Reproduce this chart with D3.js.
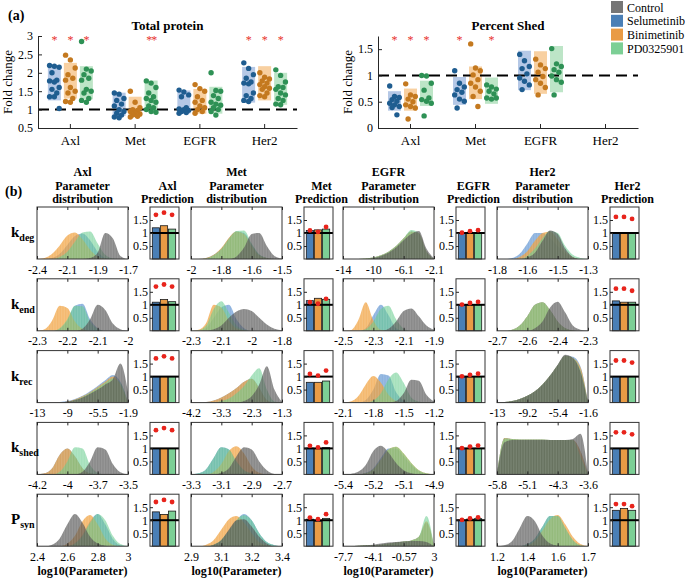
<!DOCTYPE html>
<html lang="en">
<head>
<meta charset="utf-8">
<title>Fold change and parameter distributions</title>
<script src="https://cdn.jsdelivr.net/npm/d3@7"></script>
<style>
  body { margin: 0; background: #fff; }
</style>
</head>
<body>
<script>
// ---- categories ----
var proteins = ["Axl", "Met", "EGFR", "Her2"];
var drugs = ["Selumetinib", "Binimetinib", "PD0325901"];
var legendNames = ["Control", "Selumetinib", "Binimetinib", "PD0325901"];
var rowMain = ["k", "k", "k", "k", "P"];
var rowSub = ["deg", "end", "rec", "shed", "syn"];

// ---- (a) Total protein: points per drug (Sel, Bini, PD) ----
var totalAxl = [
  [2.2, 2.18, 2.15, 2.0, 1.8, 1.78, 1.75, 1.6, 1.55, 1.45, 1.35, 1.35, 1.03],
  [2.48, 2.35, 2.13, 1.95, 1.85, 1.8, 1.6, 1.5, 1.45, 1.3, 1.22, 1.2],
  [2.85, 2.1, 2.05, 1.95, 1.85, 1.8, 1.55, 1.5, 1.45, 1.3, 1.25, 1.2]];
var totalMet = [
  [1.45, 1.42, 1.3, 1.25, 1.15, 1.1, 1.0, 0.95, 0.9, 0.85, 0.8, 0.78],
  [1.5, 1.2, 1.05, 1.0, 0.98, 0.95, 0.9, 0.88, 0.85, 0.82, 0.8],
  [1.78, 1.72, 1.6, 1.45, 1.35, 1.3, 1.25, 1.2, 1.1, 1.05, 1.0, 0.95, 0.93]];
var totalEGFR = [
  [1.53, 1.48, 1.4, 1.35, 1.05, 1.02, 1.0, 0.98, 0.95, 0.92, 0.9],
  [1.68, 1.57, 1.5, 1.35, 1.25, 1.2, 1.1, 1.05, 1.0, 0.95, 0.9],
  [2.0, 1.52, 1.5, 1.38, 1.3, 1.2, 1.15, 1.12, 1.05, 1.0, 0.95, 0.85]];
var totalHer2 = [
  [2.27, 2.12, 1.95, 1.85, 1.75, 1.72, 1.7, 1.45, 1.38, 1.3, 1.25, 1.22],
  [2.0, 1.88, 1.83, 1.78, 1.72, 1.68, 1.62, 1.58, 1.55, 1.45, 1.38, 1.35],
  [2.08, 1.93, 1.75, 1.62, 1.6, 1.55, 1.45, 1.4, 1.3, 1.25, 1.15, 1.13]];
var totalLo = [[1.25, 1.3, 1.28], [0.83, 0.8, 0.95], [0.89, 0.89, 0.89], [1.19, 1.25, 1.13]];
var totalHi = [[2.14, 2.27, 2.18], [1.46, 1.35, 1.79], [1.52, 1.56, 1.62], [2.16, 2.18, 2.0]];
var totalStars = [[1, 1, 1], [0, 0, 2], [0, 0, 0], [1, 1, 1]];

// ---- (a) Percent shed ----
var shedAxl = [
  [0.8, 0.6, 0.58, 0.54, 0.51, 0.47, 0.44, 0.41, 0.39, 0.25],
  [0.84, 0.63, 0.6, 0.55, 0.5, 0.44, 0.41, 0.38, 0.17],
  [1.0, 0.99, 0.85, 0.72, 0.57, 0.54, 0.51, 0.47, 0.23]];
var shedMet = [
  [1.09, 0.85, 0.78, 0.73, 0.68, 0.63, 0.55, 0.51, 0.38],
  [1.6, 1.14, 1.09, 1.01, 0.92, 0.85, 0.78, 0.7, 0.6, 0.41],
  [0.82, 0.78, 0.74, 0.7, 0.65, 0.57, 0.55, 0.57]];
var shedEGFR = [
  [1.4, 1.28, 1.17, 1.13, 1.03, 0.95, 0.89, 0.82, 0.73],
  [1.31, 1.2, 1.13, 1.06, 0.98, 0.92, 0.85, 0.77, 0.63],
  [1.51, 1.22, 1.17, 1.11, 1.06, 0.99, 0.92, 0.87, 0.63]];
var shedHer2 = [[], [], []];
var shedLo = [[0.33, 0.33, 0.42], [0.44, 0.55, 0.46], [0.72, 0.65, 0.68], [null, null, null]];
var shedHi = [[0.70, 0.75, 0.90], [0.97, 1.17, 0.96], [1.47, 1.46, 1.56], [null, null, null]];
var shedStars = [[1, 1, 1], [1, 0, 1], [0, 0, 0], [0, 0, 0]];

// ---- (b) parameter distributions: 13 evenly spaced heights (% of panel), [Control, Sel, Bini, PD] ----
var axl_kdeg = [
  [0,0,0,0,0,0,0,2,12,50,40,6,0],
  [0,0,2,10,27,44,49,36,14,2,0,0,0],
  [0,2,10,26,45,51,38,18,5,1,0,0,0],
  [0,0,0,4,14,33,51,53,30,8,1,0,0]];
var axl_kend = [
  [0,0,0,0,0,0,4,22,50,40,14,3,0],
  [0,0,0,4,20,48,52,22,5,0,0,0,0],
  [0,3,20,48,44,18,4,0,0,0,0,0,0],
  [0,0,0,5,22,48,47,18,4,0,0,0,0]];
var axl_krec = [
  [0,0,0,0,2,5,10,17,25,35,45,75,20],
  [0,0,0,1,3,7,13,22,32,43,53,40,0],
  [0,0,0,0,2,6,12,20,30,40,50,35,0],
  [0,0,0,0,1,5,11,19,28,38,47,38,0]];
var axl_kshed = [
  [0,0,0,0,0,0,5,25,52,48,20,4,0],
  [0,2,12,38,50,35,12,2,0,0,0,0,0],
  [0,2,12,38,50,35,12,2,0,0,0,0,0],
  [0,0,0,5,25,52,50,18,3,0,0,0,0]];
var axl_psyn = [
  [0,0,3,15,42,62,45,18,5,1,0,0,0],
  [0,0,0,0,0,6,22,48,62,42,14,2,0],
  [0,0,0,0,5,20,48,60,42,15,3,0,0],
  [0,0,0,0,0,5,20,45,62,50,20,4,0]];

var met_kdeg = [
  [0,0,0,0,0,0,5,22,48,50,25,6,1],
  [0,0,2,8,20,40,53,50,28,8,2,0,0],
  [0,0,2,8,21,41,53,48,26,7,2,0,0],
  [0,0,1,7,19,39,54,55,30,9,2,0,0]];
var met_kend = [
  [0,0,0,3,10,25,37,42,38,25,12,4,1],
  [0,0,5,25,45,50,22,5,0,0,0,0,0],
  [0,2,15,50,45,20,5,1,0,0,0,0,0],
  [0,1,10,42,57,35,10,2,0,0,0,0,0]];
var met_krec = [
  [0,0,0,0,0,0,0,3,12,35,70,25,1],
  [0,0,1,4,10,18,28,40,46,28,5,0,0],
  [0,0,1,4,10,18,28,40,46,28,5,0,0],
  [0,0,0,0,3,8,18,32,52,66,25,2,0]];
var met_kshed = [
  [0,0,0,0,3,12,35,52,48,25,8,1,0],
  [0,2,10,32,52,48,25,8,2,0,0,0,0],
  [0,0,0,5,20,45,54,40,15,3,0,0,0],
  [0,2,10,32,52,48,25,8,2,0,0,0,0]];
var met_psyn = [
  [0,0,0,3,12,32,50,52,38,18,5,0,0],
  [0,0,0,3,12,30,50,62,50,25,8,2,0],
  [0,0,3,12,32,52,58,45,25,8,2,0,0],
  [0,0,0,3,12,30,50,60,50,25,8,2,0]];

var egfr_kdeg = [
  [0,0,0,0,2,6,12,22,36,48,54,20,1],
  [0,0,0,1,3,7,14,25,40,53,50,15,0],
  [0,0,0,1,3,7,14,25,40,53,50,15,0],
  [0,0,0,1,3,7,14,25,40,56,50,15,0]];
var egfr_kend = [
  [0,0,0,0,0,0,4,18,38,43,28,10,2],
  [0,0,0,5,30,50,30,5,0,0,0,0,0],
  [0,1,20,55,20,2,0,0,0,0,0,0,0],
  [0,0,0,3,18,42,48,22,4,0,0,0,0]];
var egfr_krec = [
  [0,0,0,0,0,0,0,3,18,44,42,15,2],
  [0,0,0,5,25,55,52,20,4,0,0,0,0],
  [0,2,12,35,51,38,15,3,0,0,0,0,0],
  [0,0,0,0,4,18,45,58,38,10,2,0,0]];
var egfr_kshed = [
  [0,1,5,18,45,55,42,22,8,2,0,0,0],
  [0,0,0,3,12,32,50,50,35,18,6,1,0],
  [0,0,0,2,10,28,48,53,40,22,8,2,0],
  [0,0,0,2,10,28,48,53,40,22,8,2,0]];
var egfr_psyn = [
  [0,0,1,2,3,5,7,8,9,10,10,8,0],
  [0,0,1,2,2,3,5,7,9,11,18,45,0],
  [0,0,1,2,2,3,5,7,9,11,18,48,0],
  [0,0,1,2,2,3,5,7,9,11,18,58,0]];

var her2_kdeg = [
  [0,0,0,0,3,12,35,55,48,20,4,0,0],
  [0,0,2,10,30,50,50,40,25,10,3,0,0],
  [0,0,0,4,15,35,50,53,38,15,4,0,0],
  [0,0,0,0,6,20,40,54,50,25,8,2,0]];
var her2_kend = [
  [0,0,0,0,0,5,18,45,56,35,10,2,0],
  [0,0,2,10,28,50,55,40,18,5,1,0,0],
  [0,0,2,10,28,50,55,40,18,5,1,0,0],
  [0,0,2,10,28,50,55,40,18,5,1,0,0]];
var her2_krec = [
  [0,1,3,7,13,22,35,52,73,92,86,60,0],
  [0,1,3,7,13,22,35,52,72,90,88,70,0],
  [0,1,3,7,13,22,35,52,72,90,86,68,0],
  [0,1,3,7,13,22,35,52,72,90,86,62,0]];
var her2_kshed = [
  [0,62,66,66,66,66,66,66,66,66,68,78,0],
  [0,70,68,67,67,67,67,66,66,66,66,45,0],
  [0,70,68,67,67,67,67,66,66,66,66,45,0],
  [0,69,68,67,67,67,67,66,66,66,66,35,0]];
var her2_psyn = [
  [0,2,10,35,58,48,20,5,1,0,0,0,0],
  [0,0,0,0,4,15,38,58,58,35,12,2,0],
  [0,0,0,0,2,10,30,52,60,42,18,4,0],
  [0,0,0,0,4,15,38,58,58,35,12,2,0]];

// x tick labels (first and last are the axis ends)
var axlTicks = [[-2.4,-2.1,-1.9,-1.7],[-2.3,-2.2,-2.1,-2],[-13,-9,-5.5,-1.9],[-4.2,-4,-3.7,-3.5],[2.4,2.6,2.8,3]];
var metTicks = [[-2,-1.8,-1.6,-1.5],[-2.3,-2.1,-2,-1.8],[-4.2,-3.3,-2.3,-1.3],[-3.3,-3.1,-2.9,-2.7],[2.9,3.1,3.2,3.4]];
var egfrTicks = [[-14,-10,-6.1,-2.1],[-2.5,-2.3,-2.1,-1.9],[-2.1,-1.8,-1.5,-1.2],[-5.4,-5.2,-5.1,-4.9],[-7.7,-4.1,-0.57,3]];
var her2Ticks = [[-1.8,-1.6,-1.5,-1.3],[-2.7,-2.6,-2.4,-2.3],[-13,-9.2,-5.4,-1.6],[-5.8,-5.1,-4.3,-3.6],[1.2,1.4,1.6,1.7]];

// prediction bars (Sel, Bini, PD) per row, and measured data dots
var axlBars = [[1.2,1.28,1.15],[1.1,1.2,1.12],[1,1,1],[1,1,1],[1.32,1.22,1.35]];
var metBars = [[1.1,1.12,1.15],[1.16,1.25,1.21],[0.78,0.78,0.83],[1.01,1,1.03],[1.04,0.95,1.07]];
var egfrBars = [[1,1,1],[1,1,1],[1,1,1],[1,1,1],[1,1.04,1.06]];
var her2Bars = [[1.02,1.02,1.02],[1.15,1.1,1.1],[1,1,1],[1,1,1],[1.38,1.45,1.38]];
var axlDots = [1.7, 1.78, 1.7];
var metDots = [1.1, 1.04, 1.23];
var egfrDots = [1.01, 1.07, 1.11];
var her2Dots = [1.62, 1.62, 1.54];

// tables built from the arrays above
var totalPts = [totalAxl, totalMet, totalEGFR, totalHer2];
var shedPts = [shedAxl, shedMet, shedEGFR, shedHer2];
var distData = [
  [axl_kdeg, axl_kend, axl_krec, axl_kshed, axl_psyn],
  [met_kdeg, met_kend, met_krec, met_kshed, met_psyn],
  [egfr_kdeg, egfr_kend, egfr_krec, egfr_kshed, egfr_psyn],
  [her2_kdeg, her2_kend, her2_krec, her2_kshed, her2_psyn]];
var tickData = [axlTicks, metTicks, egfrTicks, her2Ticks];
var barData = [axlBars, metBars, egfrBars, her2Bars];
var dotData = [axlDots, metDots, egfrDots, her2Dots];

// ---- styles ----
var boxFill = ["#b5c8e6", "#f8d0a1", "#bde5c7"];
var ptFill = ["#1f5d90", "#c4791f", "#2e9155"];
var legendFill = ["#767676", "#4a7fb6", "#e99b45", "#7ccf95"];
var distFill = ["#4f4f4f", "#3f7fc8", "#f09c35", "#62c98a"];
var distAlpha = [0.68, 0.6, 0.72, 0.58];
var barFill = ["#4a7fb6", "#e99b45", "#7ccf95"];
var FONT = "Liberation Serif";

var svg = d3.select("body").append("svg").attr("width", 685).attr("height", 580)
  .attr("font-family", FONT).style("font-family", FONT);

function txt(sel) {
  return sel.attr("font-family", FONT).style("font-family", FONT);
}

function styleAxis(g) {
  g.attr("font-size", 12).attr("font-family", FONT);
  g.selectAll("text").attr("fill", "#000").style("font-family", FONT);
  g.selectAll("line").attr("stroke", "#262626");
  g.select(".domain").attr("stroke", "#262626");
}

var defs = svg.append("defs");
// faint vertical striping, like histogram bar edges
var pat = defs.append("pattern").attr("id", "stripes").attr("patternUnits", "userSpaceOnUse")
  .attr("width", 1.6).attr("height", 10);
pat.append("rect").attr("width", 0.5).attr("height", 10).attr("fill", "#fff").attr("fill-opacity", 0.22);

// ================= panel (a) =================
function scatterPanel(x0, x1, yDomain, yTicks, title, pts, lo, hi, stars) {
  var g = svg.append("g");
  var x = d3.scaleBand().domain(proteins).range([x0, x1]);
  var dx = d3.scalePoint().domain(drugs).range([-16, 16]);
  var y = d3.scaleLinear().domain(yDomain).range([128, 36]);

  proteins.forEach(function(p, i) {
    drugs.forEach(function(d, j) {
      if (lo[i][j] == null) return;
      var cx = x(p) + x.bandwidth() / 2 + dx(d);
      g.append("rect").attr("x", cx - 6.5).attr("width", 13)
        .attr("y", y(hi[i][j])).attr("height", y(lo[i][j]) - y(hi[i][j]))
        .attr("fill", boxFill[j]);
    });
  });

  g.append("line").attr("x1", x0).attr("x2", x1).attr("y1", y(1)).attr("y2", y(1))
    .attr("stroke", "#000").attr("stroke-width", 2).attr("stroke-dasharray", "11,6");

  proteins.forEach(function(p, i) {
    drugs.forEach(function(d, j) {
      var cx = x(p) + x.bandwidth() / 2 + dx(d);
      g.selectAll(null).data(pts[i][j]).enter().append("circle")
        .attr("cx", function(v, k) { return cx + ((k * 7) % 5 - 2) * 2.4; })
        .attr("cy", function(v) { return y(v); })
        .attr("r", 2.7).attr("fill", ptFill[j]);
      if (stars[i][j]) {
        txt(g.append("text")).attr("x", cx).attr("y", 44).attr("text-anchor", "middle")
          .attr("font-size", 12).attr("fill", "#e8312b")
          .attr("letter-spacing", stars[i][j] === 2 ? -1 : 0)
          .text(stars[i][j] === 2 ? "**" : "*");
      }
    });
  });

  var ax = g.append("g").attr("transform", "translate(" + x0 + ",0)")
    .call(d3.axisLeft(y).tickValues(yTicks).tickSizeInner(-4).tickSizeOuter(0).tickPadding(5)
      .tickFormat(function(d) { return String(d); }));
  styleAxis(ax);
  var bx = g.append("g").attr("transform", "translate(0,128)")
    .call(d3.axisBottom(x).tickSizeInner(-4).tickSizeOuter(0).tickPadding(8));
  styleAxis(bx);
  bx.attr("font-size", 13);

  txt(g.append("text")).attr("x", (x0 + x1) / 2).attr("y", 30).attr("text-anchor", "middle")
    .attr("font-weight", "bold").attr("font-size", 13).text(title);
  txt(g.append("text")).attr("transform", "translate(" + (x0 - 26) + ",82) rotate(-90)")
    .attr("text-anchor", "middle").attr("font-size", 13).text("Fold change");
}

scatterPanel(38, 297, [0.5, 3], [0.5, 1, 1.5, 2, 2.5, 3], "Total protein", totalPts, totalLo, totalHi, totalStars);
scatterPanel(378, 638, [0, 1.75], [0, 0.5, 1, 1.5], "Percent Shed", shedPts, shedLo, shedHi, shedStars);

txt(svg.append("text")).attr("x", 8).attr("y", 20).attr("font-weight", "bold").attr("font-size", 14).text("(a)");

// legend
var leg = svg.append("g");
legendNames.forEach(function(n, i) {
  leg.append("rect").attr("x", 611).attr("y", 1 + i * 13.8).attr("width", 12).attr("height", 12)
    .attr("fill", legendFill[i]);
  txt(leg.append("text")).attr("x", 627).attr("y", 11.5 + i * 13.8).attr("font-size", 12).text(n);
});

// ================= panel (b) =================
txt(svg.append("text")).attr("x", 5).attr("y", 196).attr("font-weight", "bold").attr("font-size", 14).text("(b)");

var distLeft = [37, 191, 343, 497];
var distW = 91, panelH = 52, predOff = 113, predW = 29;
var rowTop = d3.range(5).map(function(r) { return 207 + r * 71.8; });

proteins.forEach(function(p, c) {
  var L = distLeft[c], PL = L + predOff;
  // headers
  [p, "Parameter", "distribution"].forEach(function(t, k) {
    txt(svg.append("text")).attr("x", L + distW / 2).attr("y", 176 + k * 13.5).attr("text-anchor", "middle")
      .attr("font-weight", "bold").attr("font-size", 12).text(t);
  });
  [p, "Prediction"].forEach(function(t, k) {
    txt(svg.append("text")).attr("x", PL + predW / 2 + 3).attr("y", 189.5 + k * 13.5).attr("text-anchor", "middle")
      .attr("font-weight", "bold").attr("font-size", 12).text(t);
  });
  txt(svg.append("text")).attr("x", L + distW / 2).attr("y", 575).attr("text-anchor", "middle")
    .attr("font-weight", "bold").attr("font-size", 12).text("log10(Parameter)");

  rowTop.forEach(function(T, r) {
    // ---- distribution ----
    var ticks = tickData[c][r];
    var lo = ticks[0], hiV = ticks[3];
    var xs = d3.scaleLinear().domain([lo, hiV]).range([0, distW]);
    var ys = d3.scaleLinear().domain([0, 100]).range([panelH, 0]);
    var g = svg.append("g").attr("transform", "translate(" + L + "," + T + ")");
    var cid = "clip" + c + r;
    defs.append("clipPath").attr("id", cid).append("rect").attr("width", distW).attr("height", panelH);
    var step = (hiV - lo) / 12;
    var area = d3.area()
      .x(function(v, i) { return xs(lo + i * step); })
      .y0(panelH).y1(function(v) { return ys(v); })
      .curve(d3.curveMonotoneX);
    var series = distData[c][r];
    var order = [1, 2, 3, 0];
    var cg = g.append("g").attr("clip-path", "url(#" + cid + ")");
    order.forEach(function(s) {
      cg.append("path").attr("d", area(series[s])).attr("fill", distFill[s])
        .attr("fill-opacity", distAlpha[s]);
    });
    cg.append("rect").attr("width", distW).attr("height", panelH).attr("fill", "url(#stripes)");
    g.append("rect").attr("width", distW).attr("height", panelH).attr("fill", "none")
      .attr("stroke", "#333").attr("stroke-width", 1);
    var tv = d3.range(4).map(function(i) { return lo + i * (hiV - lo) / 3; });
    var xb = g.append("g").attr("transform", "translate(0," + panelH + ")")
      .call(d3.axisBottom(xs).tickValues(tv).tickSizeInner(-3).tickSizeOuter(0).tickPadding(6)
        .tickFormat(function(d, i) { return String(ticks[i]); }));
    styleAxis(xb);
    xb.select(".domain").remove();
    var xt = g.append("g").call(d3.axisTop(xs).tickValues(tv).tickSizeInner(-3).tickSizeOuter(0).tickFormat(""));
    styleAxis(xt);
    xt.select(".domain").remove();

    // ---- prediction ----
    var pg = svg.append("g").attr("transform", "translate(" + PL + "," + T + ")");
    var bx = d3.scaleBand().domain(drugs).range([1.5, predW - 2.5]).padding(0.1);
    var by = d3.scaleLinear().domain([0, 2]).range([panelH, 0]);
    pg.selectAll(null).data(barData[c][r]).enter().append("rect")
      .attr("x", function(v, i) { return bx(drugs[i]); })
      .attr("width", bx.bandwidth())
      .attr("y", function(v) { return by(v); })
      .attr("height", function(v) { return panelH - by(v); })
      .attr("fill", function(v, i) { return barFill[i]; })
      .attr("stroke", "#1a1a1a").attr("stroke-width", 0.8);
    pg.append("line").attr("x1", 0).attr("x2", predW).attr("y1", by(1)).attr("y2", by(1))
      .attr("stroke", "#000").attr("stroke-width", 2);
    pg.selectAll(null).data(dotData[c]).enter().append("circle")
      .attr("cx", function(v, i) { return bx(drugs[i]) + bx.bandwidth() / 2; })
      .attr("cy", function(v) { return by(v); })
      .attr("r", 2.4).attr("fill", "#e8241c");
    pg.append("rect").attr("width", predW).attr("height", panelH).attr("fill", "none")
      .attr("stroke", "#333").attr("stroke-width", 1);
    var py = pg.append("g")
      .call(d3.axisLeft(by).tickValues([0.5, 1, 1.5]).tickSizeInner(-3).tickSizeOuter(0).tickPadding(2)
        .tickFormat(function(d) { return String(d); }));
    styleAxis(py);
    py.select(".domain").remove();
  });
});

// row labels
rowTop.forEach(function(T, r) {
  var t = txt(svg.append("text")).attr("x", 11).attr("y", T + 30).attr("font-weight", "bold").attr("font-size", 15);
  t.append("tspan").text(rowMain[r]);
  t.append("tspan").attr("dy", 4).attr("font-size", 10).text(rowSub[r]);
});
</script>
</body>
</html>
